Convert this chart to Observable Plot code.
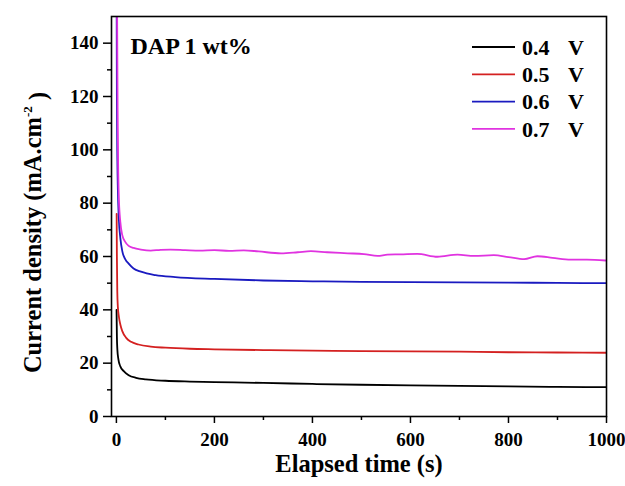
<!DOCTYPE html>
<html><head><meta charset="utf-8">
<script src="https://cdn.jsdelivr.net/npm/d3@7"></script>
<script src="https://cdn.jsdelivr.net/npm/@observablehq/plot@0.6"></script>
<style>
body{margin:0;background:#fff;font-family:"Liberation Serif",serif;font-weight:bold}
svg{display:block}
svg text, svg tspan{font-family:"Liberation Serif","DejaVu Serif",serif !important;font-weight:bold}
</style>
</head><body><div id="chart"></div>
<script>
const seriesNames = ["0.4", "0.5", "0.6", "0.7"];
const seriesColors = ["#000000", "#d42020", "#1a1ac0", "#e033e0"];

const t04 = [0.3, 1, 2, 4, 8, 15, 25, 40, 60, 100, 150, 200, 300, 400, 500, 600, 700, 800, 900, 1000];
const j04 = [40, 30, 25, 21.5, 18.8, 17, 15.5, 14.5, 13.9, 13.4, 13.1, 12.9, 12.6, 12.2, 11.9, 11.7, 11.5, 11.3, 11.1, 11.0];

const t05 = [0.5, 1, 1.8, 3, 5, 8, 12, 20, 30, 45, 70, 100, 150, 200, 300, 400, 500, 600, 700, 800, 900, 1000];
const j05 = [76, 60, 47, 41, 37.5, 34.5, 32, 29.5, 28, 27, 26.2, 25.8, 25.4, 25.2, 24.9, 24.7, 24.5, 24.4, 24.3, 24.1, 24.0, 23.9];

const t06 = [0.3, 1, 2, 3, 5, 8, 12, 18, 25, 35, 50, 80, 120, 200, 300, 400, 500, 600, 700, 800, 900, 1000];
const j06 = [170, 120, 96, 85, 74, 67, 62, 59, 57.3, 55.5, 54.3, 53, 52.3, 51.6, 51, 50.7, 50.5, 50.4, 50.3, 50.2, 50.1, 50.0];

const t07 = [0.5, 1.5, 2.5, 3.5, 5, 8, 12, 18, 25, 35, 50, 70, 90, 110, 140, 170, 200, 230, 260, 290, 336, 370, 397, 430, 472, 505, 533, 553, 580, 614, 655, 696, 730, 770, 800, 832, 859, 890, 927, 960, 998];
const j07 = [175, 150, 115, 95, 82, 73, 68, 65.5, 64, 63.2, 62.6, 62.2, 62.5, 62.6, 62.4, 62.2, 62.4, 62.1, 62.3, 61.9, 61.2, 61.6, 62.0, 61.6, 61.2, 60.9, 60.2, 60.7, 60.8, 61.0, 59.9, 60.7, 60.2, 60.5, 59.8, 59.0, 60.1, 59.5, 58.8, 58.8, 58.5];

const xTicks = [0, 200, 400, 600, 800, 1000];
const xMinor = [100, 300, 500, 700, 900];
const yTicks = [0, 20, 40, 60, 80, 100, 120, 140];
const yMinor = [10, 30, 50, 70, 90, 110, 130];

const annotation = "DAP 1 wt%";
const xTitle = "Elapsed time (s)";
const yTitle = "Current density (mA.cm-2)";
const unitLabel = "V";

const seriesT = [t04, t05, t06, t07];
const seriesJ = [j04, j05, j06, j07];
const rows = [];
seriesNames.forEach((name, i) => seriesT[i].forEach((t, k) => rows.push({t, j: seriesJ[i][k], v: name})));

const FONT = '"Liberation Serif", "DejaVu Serif", serif';

function legendMark(index, scales, values, dim) {
  const g = d3.create("svg:g").attr("font-family", FONT).attr("font-weight", "bold")
    .attr("font-size", 22).attr("text-anchor", "start");
  const right = dim.width - dim.marginRight;
  seriesNames.forEach((name, i) => {
    const y = dim.marginTop + 31 + i * 27.3;
    g.append("line").attr("x1", right - 134).attr("x2", right - 91).attr("y1", y).attr("y2", y)
      .attr("stroke", scales.color(name)).attr("stroke-width", 1.8);
    g.append("text").attr("x", right - 84).attr("y", y).attr("dy", "0.35em").attr("fill", "#000").text(name);
    g.append("text").attr("x", right - 38).attr("y", y).attr("dy", "0.35em").attr("fill", "#000").text(unitLabel);
  });
  return g.node();
}

const plot = Plot.plot({
  width: 625, height: 486,
  marginLeft: 111, marginRight: 19, marginTop: 16, marginBottom: 70,
  x: {domain: [-10, 1000]},
  y: {domain: [0, 150]},
  color: {domain: seriesNames, range: seriesColors},
  style: {fontFamily: FONT, fontWeight: "bold", color: "#000", background: "#fff"},
  marks: [
    Plot.axisX({ticks: xMinor, tickSize: 4, tickFormat: () => "", label: null, strokeWidth: 1.5}),
    Plot.axisX({ticks: xTicks, tickSize: 7, tickPadding: 9, fontSize: 19, label: null, tickFormat: d => String(d), strokeWidth: 1.5}),
    Plot.axisY({ticks: yMinor, tickSize: 4, tickFormat: () => "", label: null, strokeWidth: 1.5}),
    Plot.axisY({ticks: yTicks, tickSize: 8, tickPadding: 5, fontSize: 19, label: null, tickFormat: d => String(d), strokeWidth: 1.5}),
    Plot.line(rows, {x: "t", y: "j", z: "v", stroke: "v", strokeWidth: 1.8, curve: "monotone-x", clip: true}),
    Plot.frame({stroke: "#000", strokeWidth: 1.6}),
    Plot.text([annotation], {frameAnchor: "top-left", dx: 19, dy: 37, lineAnchor: "bottom", textAnchor: "start", fontSize: 24, fontWeight: "bold", fill: "#000"}),
    Plot.text([xTitle], {frameAnchor: "bottom", dy: 55, fontSize: 24.5, fontWeight: "bold", fill: "#000"}),
    Plot.text([yTitle], {frameAnchor: "left", textAnchor: "middle", rotate: -90, dx: -78, dy: 16, fontSize: 24.5, fontWeight: "bold", fill: "#000"}),
    legendMark
  ]
});

d3.select(plot).selectAll("text").filter(function() { return this.textContent === yTitle; })
  .each(function() {
    const t = d3.select(this);
    t.text(null);
    t.append("tspan").text("Current density (mA.cm");
    t.append("tspan").attr("font-size", 13).attr("dy", "-0.75em").text("-2");
    t.append("tspan").attr("dy", "0.6em").text(" )");
  });

document.getElementById("chart").appendChild(plot);
</script>
</body></html>
